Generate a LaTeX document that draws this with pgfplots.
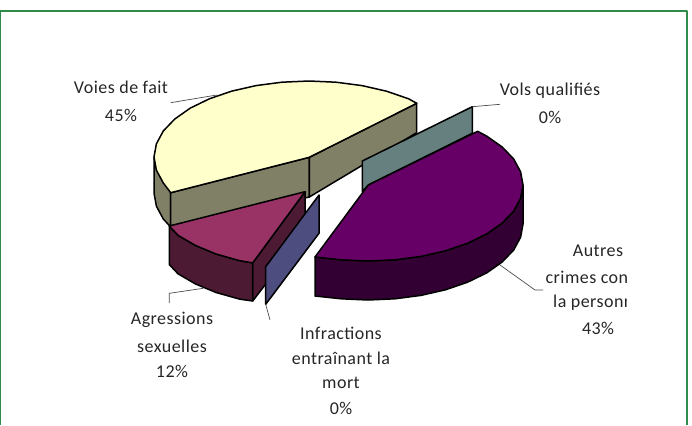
\documentclass[border=0pt]{standalone}
\usepackage{pgfplots}
\pgfplotsset{compat=1.18}
\usepackage{fontspec}
\setmainfont{Carlito}[LetterSpace=2.5]
\definecolor{frame}{HTML}{2E8B4A}
\definecolor{ytop}{HTML}{FFFFCC}
\definecolor{yside}{HTML}{808066}
\definecolor{mtop}{HTML}{993366}
\definecolor{mside}{HTML}{4D1A33}
\definecolor{ptop}{HTML}{660066}
\definecolor{pside}{HTML}{330033}
\definecolor{bpanel}{HTML}{4D4D80}
\definecolor{tpanel}{HTML}{668080}
\definecolor{lbl}{HTML}{262626}
\begin{document}
\begin{tikzpicture}
\begin{axis}[
  width=692pt,height=425pt,scale only axis,
  xmin=0,xmax=692,ymin=0,ymax=425,y dir=reverse,
  axis lines=none,clip=false,
  every axis plot/.append style={draw=black,line width=1.5pt,line join=round},
]
% cadre
\addplot[draw=frame,line width=2pt] coordinates {(0,425) (0,11) (687,11) (687,425)};
% voies de fait
\addplot[fill=yside] coordinates {(154,157) (154,193) (156.4,206.2) (163.3,219) (170.7,227) (170.7,192.7)} -- cycle;
\addplot[fill=yside] coordinates {(170.7,192.7) (309.3,157.3) (309.3,197) (170.7,226)} -- cycle;
\addplot[fill=yside] coordinates {(309.3,157.3) (416.7,103.3) (416.7,132.7) (309.3,197)} -- cycle;
\addplot[fill=ytop] coordinates {(309.3,157.3) (170.7,192.7) (163.3,183) (156.4,170.2) (154,157) (156.4,143.8) (163.3,131) (174.8,119) (190.3,108.1) (209.4,98.8) (231.5,91.2) (256,85.6) (282,82.2) (309,81) (335.9,82.2) (362,85.6) (386.5,91.2) (408.6,98.8) (416.7,103.3)} -- cycle;
% agressions sexuelles
\addplot[fill=mside] coordinates {(252.7,262.9) (305,191.7) (305,233) (252.7,301)} -- cycle;
\addplot[fill=mside] coordinates {(169.3,226) (178,235.3) (195.4,245.4) (216,254) (239.5,260.6) (252.7,262.9) (252.7,301) (239.5,299.1) (216,292.5) (195.4,283.9) (178,273.8) (169.3,264.5)} -- cycle;
\addplot[fill=mtop] coordinates {(305,191.7) (169.3,226) (178,235.3) (195.4,245.4) (216,254) (239.5,260.6) (252.7,262.9)} -- cycle;
% infractions
\addplot[fill=bpanel] coordinates {(265.7,266.7) (319,195) (319,233.3) (265.7,304.3)} -- cycle;
% vols
\addplot[fill=tpanel] coordinates {(362.3,161) (472.3,106.7) (472.3,133.3) (368.3,185) (362.3,191.7)} -- cycle;
% autres crimes
\addplot[fill=pside] coordinates {(315,257) (341.1,259.8) (368,261) (394.9,259.8) (421,256.4) (445.5,250.8) (467.6,243.2) (486.7,233.9) (502.2,223) (513.7,211) (520.6,198.2) (523,185) (523,224) (520.6,237.2) (513.7,250) (502.2,262) (486.7,272.9) (467.6,282.2) (445.5,289.8) (421,295.4) (394.9,298.8) (368,300) (341.1,298.8) (315,296)} -- cycle;
\addplot[fill=ptop] coordinates {(368.3,185) (477.6,131.3) (486.7,136.1) (502.2,147) (513.7,159) (520.6,171.8) (523,185) (520.6,198.2) (513.7,211) (502.2,223) (486.7,233.9) (467.6,243.2) (445.5,250.8) (421,256.4) (394.9,259.8) (368,261) (341.1,259.8) (315,257)} -- cycle;
% reperes
\addplot[draw=black!70,line width=.7pt] coordinates {(170.7,102.7) (216.7,95)};
\addplot[draw=black!70,line width=.7pt] coordinates {(472.3,106.7) (500,104.3)};
\addplot[draw=black!70,line width=.7pt] coordinates {(500,265) (535,290) (543,290)};
\addplot[draw=black!70,line width=.7pt] coordinates {(169.3,303) (169.3,293.3) (203.3,288.3)};
\addplot[draw=black!70,line width=.7pt] coordinates {(265.7,304.3) (270,320)};
% etiquettes
\begin{scope}[every node/.style={font=\fontsize{18}{18}\selectfont,text=lbl,inner sep=0pt,anchor=center}]
\node at (axis cs:121,87) {Voies de fait};
\node at (axis cs:121,115) {45\%};
\node at (axis cs:550,91) {Vols qualifiés};
\node at (axis cs:550,117) {0\%};
\node at (axis cs:172,320) {Agressions};
\node at (axis cs:172,346) {sexuelles};
\node at (axis cs:172,371) {12\%};
\node at (axis cs:341,333) {Infractions};
\node at (axis cs:341,358) {entraînant la};
\node at (axis cs:341,383) {mort};
\node at (axis cs:341,408) {0\%};
\node at (axis cs:598,251) {Autres};
\node at (axis cs:598,328) {43\%};
\begin{scope}
\clip (axis cs:530,265) rectangle (axis cs:626,315);
\node at (axis cs:598,277) {crimes contre};
\node at (axis cs:598,303) {la personne};
\end{scope}
\end{scope}
\end{axis}
\pgfresetboundingbox
\path[use as bounding box] (0,0) rectangle (692pt,425pt);
\end{tikzpicture}
\end{document}
